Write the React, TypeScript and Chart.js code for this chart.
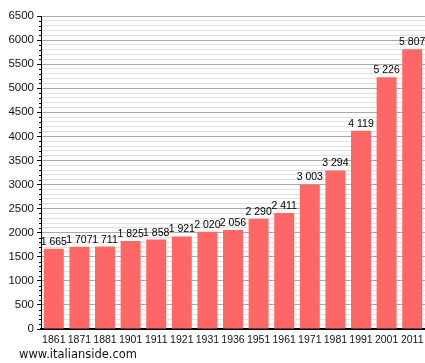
import React, { useEffect, useRef } from "react";
import { Chart, registerables } from "chart.js";

Chart.register(...registerables);

const years = ["1861", "1871", "1881", "1901", "1911", "1921", "1931", "1936", "1951", "1961", "1971", "1981", "1991", "2001", "2011"];
const population = [1665, 1707, 1711, 1825, 1858, 1921, 2020, 2056, 2290, 2411, 3003, 3294, 4119, 5226, 5807];
const yMax = 6500;
const yStep = 100;
const majorStep = 500;
const watermark = "www.italianside.com";

const fmt = (v: number) => {
  const s = String(v);
  return s.length > 3 ? s.slice(0, s.length - 3) + " " + s.slice(-3) : s;
};

const extras = {
  id: "extras",
  afterDatasetsDraw(chart: any) {
    const ctx = chart.ctx;
    const meta = chart.getDatasetMeta(0);
    ctx.save();
    ctx.font = "10.5px 'Liberation Sans', Arial, sans-serif";
    ctx.fillStyle = "#000";
    ctx.textAlign = "center";
    ctx.textBaseline = "alphabetic";
    meta.data.forEach((bar: any, i: number) => {
      ctx.fillText(fmt(population[i]), bar.x, bar.y - 4);
    });
    const ys = chart.scales.y;
    const left = chart.chartArea.left;
    ctx.strokeStyle = "#000";
    ctx.lineWidth = 1;
    for (let v = 0; v <= yMax; v += yStep) {
      if (v % majorStep === 0) continue;
      const py = Math.round(ys.getPixelForValue(v)) + 0.5;
      ctx.beginPath();
      ctx.moveTo(left - 2, py);
      ctx.lineTo(left, py);
      ctx.stroke();
    }
    ctx.restore();
  },
};

export default function App() {
  const ref = useRef<HTMLCanvasElement>(null);
  useEffect(() => {
    if (!ref.current) return;
    const chart = new Chart(ref.current, {
      type: "bar",
      data: {
        labels: years,
        datasets: [
          {
            data: population,
            backgroundColor: "#FF6666",
            borderWidth: 0,
            barPercentage: 0.78,
            categoryPercentage: 1,
          },
        ],
      },
      options: {
        animation: false,
        responsive: false,
        maintainAspectRatio: false,
        layout: { padding: { top: 16, right: 0, left: 0, bottom: 0 } },
        plugins: { legend: { display: false }, tooltip: { enabled: false } },
        scales: {
          x: {
            grid: { display: false, drawTicks: false },
            border: { color: "#000", width: 2 },
            ticks: {
              color: "#111",
              font: { family: "'Liberation Sans', Arial, sans-serif", size: 10.5 },
              padding: 5,
              maxRotation: 0,
              autoSkip: false,
            },
            afterFit(scale: any) {
              scale.height = 34;
              scale.paddingLeft = 0;
              scale.paddingRight = 0;
            },
          },
          y: {
            min: 0,
            max: yMax,
            grid: {
              color: (c: any) => (c.tick && c.tick.value % majorStep === 0 ? "#aaaaaa" : "#e2e2e2"),
              tickColor: (c: any) => (c.tick && c.tick.value % majorStep === 0 ? "#000" : "rgba(0,0,0,0)"),
              tickLength: 4,
              lineWidth: 1,
            },
            border: { color: "#000", width: 1 },
            ticks: {
              stepSize: yStep,
              autoSkip: false,
              color: "#111",
              padding: 3,
              font: { family: "'Liberation Sans', Arial, sans-serif", size: 11.5 },
              callback: (v: any) => (Number(v) % majorStep === 0 ? String(v) : ""),
            },
            afterFit(scale: any) {
              scale.width = 41;
            },
          },
        },
      },
      plugins: [extras],
    });
    return () => chart.destroy();
  }, []);
  return (
    <div style={{ position: "absolute", left: 0, top: 0, width: 425, height: 363, overflow: "hidden", background: "#fff" }}>
      <canvas ref={ref} width={425} height={363} style={{ display: "block" }} />
      <div
        style={{
          position: "absolute",
          left: 19,
          top: 347,
          font: "11.5px 'DejaVu Sans', Verdana, sans-serif",
          color: "#111",
          whiteSpace: "nowrap",
        }}
      >
        {watermark}
      </div>
    </div>
  );
}
